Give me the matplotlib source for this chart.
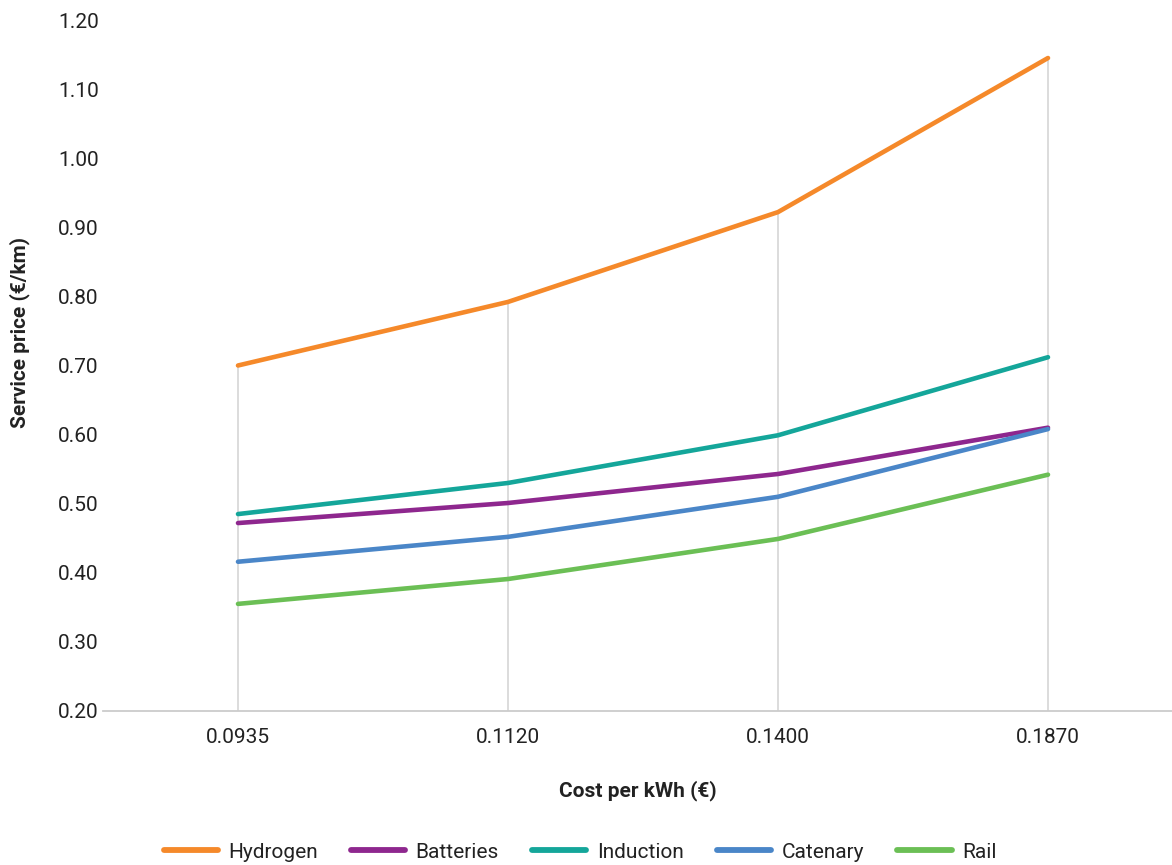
import numpy as np
import matplotlib.pyplot as plt

# data
costs = ['0.0935', '0.1120', '0.1400', '0.1870']
hydrogen = [0.700, 0.792, 0.922, 1.145]
batteries = [0.472, 0.501, 0.543, 0.610]
induction = [0.485, 0.530, 0.599, 0.712]
catenary = [0.416, 0.452, 0.510, 0.608]
rail = [0.355, 0.391, 0.449, 0.542]

series_names = ['Hydrogen', 'Batteries', 'Induction', 'Catenary', 'Rail']
series_values = [hydrogen, batteries, induction, catenary, rail]
colors = ['#F5892A', '#8E278E', '#14A69A', '#4A86C8', '#6BBF55']
y_ticks = np.arange(0.2, 1.21, 0.1)

plt.rcParams['font.family'] = ['Roboto', 'DejaVu Sans']

fig = plt.figure(figsize=(11.72, 8.65), dpi=100)
W, H = 1172, 865
left, right, top, bottom = 103, 1172, 20, 711
ax = fig.add_axes([left / W, 1 - bottom / H, (right - left) / W, (bottom - top) / H])

x = np.arange(len(costs))

# drop lines from the highest point down to the axis
tops = np.max(np.array(series_values), axis=0)
ax.vlines(x, 0.2, tops, color='#d9d9d9', lw=1.3, zorder=1)

for name, vals, c in zip(series_names, series_values, colors):
    ax.plot(x, vals, color=c, lw=3.3, label=name, solid_capstyle='round', zorder=3)

ax.set_ylim(0.2, 1.2)
ax.set_xlim(-0.5, (right - left) / 270 - 0.5)
ax.set_yticks(y_ticks)
ax.set_yticklabels(['%.2f' % v for v in y_ticks])
ax.set_xticks(x)
ax.set_xticklabels(costs)

for s in ['top', 'right', 'left']:
    ax.spines[s].set_visible(False)
ax.spines['bottom'].set_color('#cccccc')
ax.spines['bottom'].set_linewidth(1.3)
ax.tick_params(axis='both', length=0, labelsize=15, colors='#222222')
ax.tick_params(axis='y', pad=3)
ax.tick_params(axis='x', pad=12)

ax.set_xlabel('Cost per kWh (€)', fontsize=15, fontweight='bold', color='#222222', labelpad=24)
fig.text(20 / W, 1 - 333 / H, 'Service price (€/km)', rotation=90, fontsize=15,
         fontweight='bold', color='#222222', ha='center', va='center')

leg = fig.legend(loc='center', bbox_to_anchor=(580 / W, 1 - 852 / H), ncol=5, frameon=False,
                 fontsize=15, handlelength=2.6, columnspacing=1.6, handletextpad=0.5,
                 labelcolor='#222222')
for h in leg.legend_handles:
    h.set_linewidth(4.2)

fig.savefig('out.png', dpi=100)
